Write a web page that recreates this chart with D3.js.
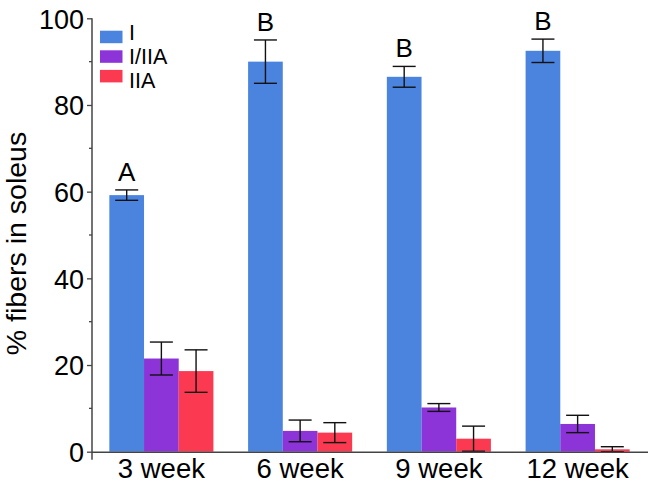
<!DOCTYPE html>
<html>
<head>
<meta charset="utf-8">
<script src="https://cdn.jsdelivr.net/npm/d3@7"></script>
<style>
  html, body { margin: 0; padding: 0; background: #fff; }
  svg { display: block; font-family: "Liberation Sans", Arial, Helvetica, sans-serif; }
</style>
</head>
<body>
<svg id="chart" width="652" height="484"></svg>
<script>
// ---- data ----
const categories = ["3 week", "6 week", "9 week", "12 week"];
const seriesNames = ["I", "I/IIA", "IIA"];
const valuesI    = [59.2, 90.0, 86.5, 92.5];
const valuesIIIA = [21.5, 4.8, 10.2, 6.4];
const valuesIIA  = [18.6, 4.4, 3.0, 0.55];
const errI    = [1.2, 5.0, 2.4, 2.7];
const errIIIA = [3.8, 2.5, 0.9, 2.0];
const errIIA  = [4.9, 2.3, 2.9, 0.6];
const sigLetters = ["A", "B", "B", "B"];
const yTicks = [0, 20, 40, 60, 80, 100];
const yMinorTicks = [10, 30, 50, 70, 90];
const colors = ["#4a84df", "#8c34d7", "#fb3a52"];

const seriesValues = [valuesI, valuesIIIA, valuesIIA];
const seriesErr = [errI, errIIIA, errIIA];

// ---- layout ----
const svg = d3.select("#chart");
const plotLeft = 92, plotRight = 647, plotTop = 18.3, plotBottom = 451.7;

const x = d3.scaleBand().domain(categories).range([plotLeft, plotRight])
  .paddingInner(0.25).paddingOuter(0.125);
const xs = d3.scaleBand().domain(seriesNames).range([0, x.bandwidth()]).padding(0);
const y = d3.scaleLinear().domain([0, 100]).range([plotBottom, plotTop]);

const axisColor = "#444";

// bars
const rows = [];
categories.forEach((c, i) => {
  seriesNames.forEach((s, j) => {
    rows.push({ c, s, j, v: seriesValues[j][i], e: seriesErr[j][i] });
  });
});

const g = svg.append("g");
g.selectAll("rect.bar").data(rows).enter().append("rect")
  .attr("class", "bar")
  .attr("x", d => x(d.c) + xs(d.s))
  .attr("y", d => y(d.v))
  .attr("width", xs.bandwidth())
  .attr("height", d => y(0) - y(d.v))
  .attr("fill", d => colors[d.j]);

// error bars
const capHalf = 11.5;
const cx = d => x(d.c) + xs(d.s) + xs.bandwidth() / 2;
const eb = g.selectAll("g.err").data(rows).enter().append("g").attr("class", "err")
  .attr("stroke", "#111").attr("stroke-width", 1.4);
eb.append("line")
  .attr("x1", cx).attr("x2", cx)
  .attr("y1", d => y(Math.max(0, d.v - d.e)))
  .attr("y2", d => y(d.v + d.e));
eb.append("line")
  .attr("x1", d => cx(d) - capHalf).attr("x2", d => cx(d) + capHalf)
  .attr("y1", d => y(d.v + d.e)).attr("y2", d => y(d.v + d.e));
eb.append("line")
  .attr("x1", d => cx(d) - capHalf).attr("x2", d => cx(d) + capHalf)
  .attr("y1", d => y(Math.max(0, d.v - d.e))).attr("y2", d => y(Math.max(0, d.v - d.e)));

// significance letters
g.selectAll("text.sig").data(categories).enter().append("text")
  .attr("class", "sig")
  .attr("x", (c) => x(c) + xs("I") + xs.bandwidth() / 2)
  .attr("y", (c, i) => y(valuesI[i] + errI[i]) - 9)
  .attr("text-anchor", "middle")
  .attr("font-size", 26)
  .attr("fill", "#000")
  .text((c, i) => sigLetters[i]);

// y axis
const yAxis = d3.axisLeft(y).tickValues(yTicks).tickSize(5).tickPadding(3);
const ya = svg.append("g").attr("transform", `translate(${plotLeft},0)`).call(yAxis);
ya.select(".domain").remove();
ya.selectAll(".tick line").attr("stroke", axisColor).attr("stroke-width", 1.3);
ya.selectAll(".tick text").attr("font-size", 27).attr("fill", "#000")
  .attr("font-family", "Liberation Sans, Arial, sans-serif").attr("dy", "0.36em");
ya.append("line").attr("x1", 0).attr("x2", 0).attr("y1", plotTop).attr("y2", plotBottom + 8)
  .attr("stroke", axisColor).attr("stroke-width", 1.5);
ya.selectAll("line.minor").data(yMinorTicks).enter().append("line")
  .attr("class", "minor")
  .attr("x1", -3).attr("x2", 0)
  .attr("y1", d => y(d)).attr("y2", d => y(d))
  .attr("stroke", axisColor).attr("stroke-width", 1.3);

// x axis
const xAxis = d3.axisBottom(x).tickSize(0).tickPadding(0);
const xa = svg.append("g").attr("transform", `translate(0,${plotBottom})`).call(xAxis);
xa.select(".domain").remove();
xa.append("line").attr("x1", plotLeft).attr("x2", plotRight + 1).attr("y1", 0.5).attr("y2", 0.5)
  .attr("stroke", axisColor).attr("stroke-width", 1.5);
xa.selectAll(".tick text").attr("font-size", 27.5).attr("fill", "#000")
  .attr("font-family", "Liberation Sans, Arial, sans-serif")
  .attr("dy", null).attr("y", 26.5);

// y label
svg.append("text")
  .attr("transform", `translate(26,${(132 + 355) / 2}) rotate(-90)`)
  .attr("text-anchor", "middle")
  .attr("font-size", 28.5)
  .attr("fill", "#000")
  .text("% fibers in soleus");

// legend
const lg = svg.append("g");
seriesNames.forEach((s, i) => {
  lg.append("rect")
    .attr("x", 100).attr("y", 30.7 + i * 19.6)
    .attr("width", 22.5).attr("height", 12.5)
    .attr("fill", colors[i]);
  lg.append("text")
    .attr("x", 129).attr("y", 39.5 + i * 24)
    .attr("font-size", 21.5)
    .attr("fill", "#000")
    .text(s);
});
</script>
</body>
</html>
